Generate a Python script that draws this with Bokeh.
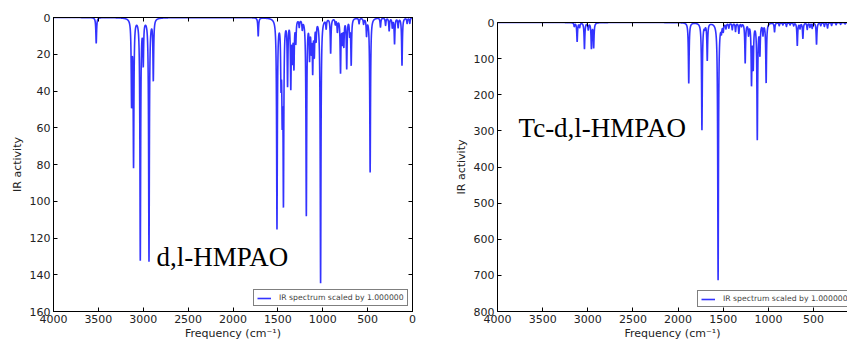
import numpy as np
from bokeh.plotting import figure
from bokeh.layouts import row, column, Spacer
from bokeh.models import Range1d, FixedTicker, LinearAxis, Label, CustomJSTickFormatter
from bokeh.embed import file_html
from bokeh.resources import INLINE

# ---- data: peak positions (cm-1) and heights ----
left_freq = [3524, 3130, 3108, 3033, 3000, 2936, 2888, 1719, 1510, 1465, 1452, 1438,
             1392, 1356, 1338, 1321, 1300, 1262, 1228, 1183, 1147, 1128, 1112, 1094,
             1074, 1024, 962, 912, 860, 837, 802, 782, 765, 733, 700, 683, 595, 545,
             512, 472, 357, 300, 260, 225, 200, 160, 117, 60, 30]
left_int = [14, 45, 79, 131, 23, 132, 33, 10, 114, 30, 45, 96,
            35, 36, 20, 25, 12, 4, 5, 107, 20, 15, 27, 18,
            10, 144, 5, 19, 3, 7, 29, 12, 14, 27, 8, 25, 3, 3,
            9, 84, 5, 4, 7, 5, 14, 5, 26, 3, 3]

right_freq = [3150, 3118, 3090, 3037, 2995, 2960, 2935, 1882, 1736, 1705, 1677, 1557,
              1520, 1500, 1470, 1438, 1400, 1364, 1327, 1298, 1257, 1220, 1187, 1168,
              1123, 1094, 1060, 1025, 932, 880, 840, 800, 760, 720, 680, 650, 618,
              570, 540, 515, 467, 420, 380, 345, 300, 250, 200, 150]
right_int = [10, 52, 12, 72, 18, 70, 68, 168, 296, 10, 102, 712,
             20, 20, 14, 13, 18, 23, 28, 8, 110, 30, 165, 118,
             320, 82, 30, 165, 25, 8, 6, 10, 6, 8, 63, 15, 43,
             18, 12, 15, 60, 8, 10, 15, 8, 6, 5, 4]

x_ticks = [4000, 3500, 3000, 2500, 2000, 1500, 1000, 500, 0]
left_yticks = [0, 20, 40, 60, 80, 100, 120, 140, 160]
right_yticks = [0, 100, 200, 300, 400, 500, 600, 700, 800]
legend_text = "IR spectrum scaled by 1.000000"
xlabel = "Frequency (cm\u207b\u00b9)"
ylabel = "IR activity"

HW = 5.0
xs = np.linspace(0, 4000, 16001)


def broaden(freqs, ints):
    y = np.zeros_like(xs)
    for f, h in zip(freqs, ints):
        y += h * HW ** 2 / ((xs - f) ** 2 + HW ** 2)
    return y


FONT = "DejaVu Sans"


def style_axis(ax, ticks, show_labels=True):
    ax.ticker = FixedTicker(ticks=ticks)
    ax.major_tick_in = 4
    ax.major_tick_out = 0
    ax.minor_tick_line_color = None
    ax.axis_line_color = "black"
    ax.major_tick_line_color = "black"
    ax.major_label_text_font = FONT
    ax.major_label_text_font_size = "11px"
    ax.major_label_text_color = "#222222"
    ax.major_label_standoff = 3
    ax.axis_label_text_font = FONT
    ax.axis_label_text_font_size = "11px"
    ax.axis_label_text_font_style = "normal"
    ax.axis_label_text_color = "#222222"
    ax.axis_label_standoff = 3
    if not show_labels:
        ax.formatter = CustomJSTickFormatter(code="return '';")
        ax.major_label_text_font_size = "0px"
        ax.major_label_standoff = 0


def make_fig(width, height, x_end, y_max, yticks, freqs, ints, mb, outline):
    p = figure(width=width, height=height, output_backend="svg", toolbar_location=None,
               x_range=Range1d(4000, x_end), y_range=Range1d(y_max, 0),
               min_border_left=mb[0], min_border_right=mb[1],
               min_border_top=mb[2], min_border_bottom=mb[3])
    p.xgrid.grid_line_color = None
    p.ygrid.grid_line_color = None
    p.background_fill_color = "white"
    p.border_fill_color = "white"
    p.outline_line_color = "black" if outline else None
    style_axis(p.xaxis[0], x_ticks)
    style_axis(p.yaxis[0], yticks)
    p.xaxis[0].axis_label_standoff = 1
    p.yaxis[0].axis_label = ylabel
    p.xaxis[0].axis_label = xlabel
    top = LinearAxis()
    style_axis(top, x_ticks, show_labels=False)
    p.add_layout(top, "above")
    if outline:
        right = LinearAxis()
        style_axis(right, yticks, show_labels=False)
        p.add_layout(right, "right")
    p.line(xs, broaden(freqs, ints), line_color="#0000ff", line_alpha=0.8,
           line_width=1.6, legend_label=legend_text)
    lg = p.legend[0]
    lg.label_text_font = FONT
    lg.label_text_font_size = "7.7px"
    lg.label_text_color = "#444444"
    lg.glyph_width = 14
    lg.glyph_height = 8
    lg.label_height = 8
    lg.label_standoff = 8
    lg.padding = 3
    lg.spacing = 0
    lg.border_line_color = "black"
    lg.border_line_width = 1
    lg.background_fill_alpha = 1
    return p


left = make_fig(445, 342, 0, 160, left_yticks, left_freq, left_int, (53, 33, 17, 31), True)
left.legend[0].location = (200, 5)
left.add_layout(Label(x=2852, y=130.6, text="d,l-HMPAO", text_font="Liberation Serif",
                      text_font_size="27px", text_color="black", text_baseline="alphabetic"))

right = make_fig(402, 337, 124, 800, right_yticks, right_freq, right_int, (52, 0, 17, 29), False)
right.legend[0].location = (200, 4)
right.add_layout(Label(x=3767, y=291, text="Tc-d,l-HMPAO", text_font="Liberation Serif",
                       text_font_size="27px", text_color="black", text_baseline="alphabetic"))

layout = row(column(left), column(Spacer(width=402, height=5), right))
open("out.html", "w").write(file_html(layout, INLINE))
